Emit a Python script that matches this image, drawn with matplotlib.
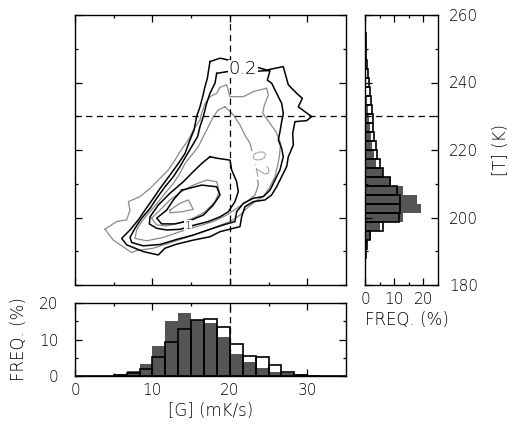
import numpy as np
import matplotlib
matplotlib.use('Agg')
import matplotlib.pyplot as plt

plt.rcParams['font.family'] = ['DejaVu Sans']
plt.rcParams['font.weight'] = 'light'
plt.rcParams['axes.labelweight'] = 'light'

# ---------------- data ----------------
# [G] histogram (bins of 5/3 mK/s from 0 to 35)
g_bin_width = 5 / 3
g_freq_gray = [0, 0, 0, 0.6, 1.3, 3.3, 8.1, 15.0, 17.3, 15.3, 14.4, 10.6, 6.1,
               3.8, 2.1, 1.1, 0.8, 0.6, 0.3, 0, 0]
g_freq_line = [0, 0, 0, 0.3, 0.9, 1.9, 5.3, 9.3, 12.8, 15.3, 15.7, 13.4, 8.8,
               5.6, 5.3, 3.0, 1.2, 0.3, 0.1, 0, 0]

# [T] histogram (bins of 8/3 K from 180 to 260)
t_bin_width = 8 / 3
t_freq_gray = [0, 0, 0.1, 0.4, 0.8, 2.0, 5.0, 13.1, 19.2, 17.9, 13.1, 9.0, 6.3,
               3.7, 3.0, 2.5, 2.1, 1.7, 1.3, 1.0, 0.7, 0.5, 0.4, 0.3, 0.2, 0.1,
               0.1, 0, 0, 0]
t_freq_line = [0, 0, 0.1, 0.3, 0.6, 1.7, 6.0, 11.5, 12.0, 12.0, 10.9, 8.6, 6.3,
               5.2, 4.1, 3.7, 3.2, 2.9, 2.6, 2.3, 2.1, 1.7, 1.4, 1.0, 0.7, 0.4,
               0.3, 0.2, 0.1, 0]

# reference lines
g_ref = 20
t_ref = 230

# black contours (G, T)
blk1_g = [17.43, 18.73, 21.74, 24.75, 26.90, 27.55, 28.63, 29.36, 28.84, 30.56,
          29.92, 28.41, 28.11, 28.20, 27.55, 27.34, 26.69, 26.04, 25.40, 24.54,
          23.03, 21.95, 21.52, 21.31, 20.45, 18.73, 17.43, 15.28, 13.13, 11.62,
          10.76, 8.82, 6.67, 6.03, 7.10, 8.18, 9.04, 10.12, 10.98, 12.27, 13.34,
          14.21, 14.85, 15.37, 15.71, 16.14, 16.49, 16.79, 17.09]
blk1_t = [246.2, 247.2, 245.7, 243.7, 244.7, 239.3, 236.8, 235.3, 232.8, 229.9,
          228.7, 228.4, 224.9, 221.5, 218.0, 215.1, 212.1, 209.1, 206.7, 205.2,
          204.7, 203.2, 200.2, 197.3, 196.8, 195.8, 194.3, 193.3, 192.1, 190.9,
          188.9, 189.9, 191.9, 193.8, 196.3, 199.3, 202.2, 205.7, 208.6, 212.6,
          216.0, 219.0, 223.0, 225.9, 229.9, 232.8, 235.8, 238.8, 241.2]

blk2_g = [18.30, 19.59, 22.60, 24.54, 25.18, 24.84, 25.40, 26.04, 26.69, 26.90,
          26.69, 26.47, 26.26, 26.69, 26.90, 26.47, 25.83, 25.18, 24.32, 23.03,
          21.74, 20.88, 20.66, 19.16, 17.43, 15.28, 13.13, 10.98, 8.82, 7.32,
          7.10, 7.75, 8.61, 9.69, 10.55, 11.62, 12.70, 13.56, 14.42, 15.07,
          15.84, 16.14, 16.57, 17.00, 17.43, 18.08]
blk2_t = [242.7, 243.2, 243.2, 243.5, 243.5, 240.7, 239.8, 236.8, 233.8, 230.9,
          228.4, 225.4, 223.0, 220.5, 218.0, 214.1, 211.1, 208.1, 206.2, 205.7,
          204.2, 201.7, 198.8, 197.8, 196.5, 194.8, 193.5, 192.0, 191.6, 192.6,
          194.1, 196.8, 199.8, 202.7, 205.7, 209.1, 212.1, 215.1, 218.5, 221.0,
          224.0, 226.9, 229.9, 233.8, 236.8, 239.8]

blk3_g = [17.43, 18.51, 20.02, 20.23, 20.88, 21.09, 20.66, 19.80, 18.73, 17.22,
          15.50, 13.56, 11.84, 10.55, 9.60, 9.69, 10.76, 12.27, 13.99, 15.28, 16.36]
blk3_t = [218.0, 217.5, 217.0, 214.1, 210.6, 207.7, 204.7, 201.7, 200.2, 198.8,
          197.8, 196.5, 196.3, 196.8, 198.1, 200.2, 203.7, 207.2, 210.6, 213.6, 216.0]

blk4_g = [13.78, 16.36, 18.30, 18.73, 17.86, 16.57, 14.85, 12.91, 11.19, 10.55,
          11.84, 12.70]
blk4_t = [208.1, 209.6, 209.1, 206.7, 203.7, 200.7, 199.1, 198.1, 198.1, 199.8,
          202.2, 205.2]

# gray contours (G, T)
gry1_g = [3.87, 5.38, 6.67, 7.10, 6.89, 8.39, 9.69, 10.76, 12.05, 12.91, 13.56,
          14.64, 15.28, 16.14, 16.36, 16.79, 17.43, 18.30, 18.73, 19.59, 20.02,
          21.74, 23.03, 24.75, 24.97, 24.45, 24.24, 25.18, 25.96, 26.56, 26.39,
          26.13, 25.83, 25.18, 24.32, 23.25, 22.17, 21.31, 20.02, 18.30, 16.57,
          14.42, 12.27, 10.12, 7.96, 7.32, 4.95]
gry1_t = [196.5, 198.8, 199.3, 202.2, 204.7, 206.2, 208.6, 211.1, 214.1, 217.0,
          219.5, 223.0, 225.9, 228.9, 230.9, 233.8, 235.8, 236.8, 238.6, 239.3,
          235.8, 235.8, 237.3, 238.3, 236.3, 233.3, 230.9, 227.9, 225.4, 222.0,
          218.0, 215.1, 212.1, 209.1, 206.2, 204.7, 202.7, 200.7, 198.8, 197.3,
          195.8, 194.1, 192.5, 190.9, 190.2, 189.6, 193.3]

gry2_g = [19.37, 20.45, 21.31, 21.95, 22.60, 23.03, 23.46, 23.68, 23.25, 22.17,
          20.88, 19.59, 17.86, 15.71, 13.56, 11.41, 9.26, 7.75, 7.96, 8.61, 9.47,
          10.55, 11.62, 12.70, 13.56, 14.21, 15.07, 15.93, 16.57, 17.22, 17.86, 18.51]
gry2_t = [232.8, 230.4, 227.4, 224.4, 222.0, 218.0, 213.1, 209.6, 206.7, 204.7,
          202.7, 200.7, 198.8, 197.3, 195.8, 194.1, 193.1, 193.8, 196.3, 198.8,
          201.2, 204.0, 207.2, 210.1, 213.1, 216.0, 218.5, 221.0, 224.0, 226.9,
          229.9, 231.9]

gry3_g = [9.90, 10.98, 12.27, 13.78, 15.28, 17.00, 18.30, 18.64, 18.08, 16.79,
          15.28, 13.56, 11.84, 10.55]
gry3_t = [199.8, 202.2, 205.2, 207.7, 209.6, 211.1, 210.6, 207.7, 204.7, 201.7,
          199.8, 198.5, 197.5, 197.8]

gry4_g = [12.27, 13.56, 14.64, 15.28, 13.78, 12.27]
gry4_t = [202.2, 204.2, 205.2, 202.4, 201.7, 201.4]

black_contours = [(blk1_g, blk1_t), (blk2_g, blk2_t), (blk3_g, blk3_t), (blk4_g, blk4_t)]
gray_contours = [(gry1_g, gry1_t), (gry2_g, gry2_t), (gry3_g, gry3_t), (gry4_g, gry4_t)]

# ---------------- figure ----------------
W, H = 514, 426
fig = plt.figure(figsize=(W / 100, H / 100), dpi=100)

def rect(l, r, t, b):
    return [l / W, (H - b) / H, (r - l) / W, (b - t) / H]

ax = fig.add_axes(rect(75, 346, 15, 285))
axb = fig.add_axes(rect(75, 346, 303, 376))
axr = fig.add_axes(rect(365, 438, 15, 285))

BAR_GRAY = '#555555'
LINE_GRAY = '#8a8a8a'
FS = 11
dash = (0, (5, 3.5))

for a in (ax, axb, axr):
    for s in a.spines.values():
        s.set_linewidth(1.0)
    a.tick_params(which='both', direction='in', top=True, right=True,
                  width=0.9, labelsize=FS)
    a.tick_params(which='major', length=5)
    a.tick_params(which='minor', length=2.5)

# main contour panel
ax.set_xlim(0, 35)
ax.set_ylim(180, 260)
ax.set_xticks([0, 10, 20, 30])
ax.set_xticks([5, 15, 25], minor=True)
ax.set_yticks([180, 200, 220, 240, 260])
ax.set_yticks([190, 210, 230, 250], minor=True)
ax.tick_params(labelbottom=False, labelleft=False)

for g, t in gray_contours:
    ax.plot(list(g) + [g[0]], list(t) + [t[0]], color=LINE_GRAY, lw=0.9, zorder=2)
for g, t in black_contours:
    ax.plot(list(g) + [g[0]], list(t) + [t[0]], color='black', lw=1.1, zorder=3)

ax.axvline(g_ref, color='black', lw=0.9, ls=dash, zorder=4)
ax.axhline(t_ref, color='black', lw=0.9, ls=dash, zorder=4)

ax.text(21.7, 244.0, '0.2', fontsize=13, ha='center', va='center', color='black',
        bbox=dict(fc='white', ec='none', pad=0.3), zorder=5)
ax.text(23.5, 215.6, '0.2', fontsize=13, ha='center', va='center', color=LINE_GRAY,
        rotation=-77, rotation_mode='anchor',
        bbox=dict(fc='white', ec='none', pad=0.3), zorder=5)
ax.text(14.6, 197.6, '1', fontsize=8, ha='center', va='center', color='black',
        bbox=dict(fc='white', ec='none', pad=0.1), zorder=5)

# bottom histogram ([G])
g_left = np.arange(len(g_freq_gray)) * g_bin_width
axb.set_xlim(0, 35)
axb.set_ylim(0, 20)
axb.axvline(g_ref, color='black', lw=0.9, ls=dash, zorder=0.5)
axb.bar(g_left, g_freq_gray, width=g_bin_width, align='edge', color=BAR_GRAY,
        edgecolor='none', zorder=1)
axb.bar(g_left, g_freq_line, width=g_bin_width, align='edge', fill=False,
        edgecolor='black', lw=1.2, zorder=2)
axb.set_xticks([0, 10, 20, 30])
axb.set_xticks([5, 15, 25], minor=True)
axb.set_yticks([0, 10, 20])
axb.set_yticks([5, 15], minor=True)
axb.tick_params(axis='y', pad=12)
axb.tick_params(axis='x', pad=5)
axb.set_xlabel('[G] (mK/s)', fontsize=FS + 1, labelpad=3)
axb.set_ylabel('FREQ. (%)', fontsize=FS + 1, labelpad=8)

# right histogram ([T])
t_bottom = 180 + np.arange(len(t_freq_gray)) * t_bin_width
axr.set_xlim(0, 25)
axr.set_ylim(180, 260)
axr.axhline(t_ref, color='black', lw=0.9, ls=dash, zorder=0.5)
axr.barh(t_bottom, t_freq_gray, height=t_bin_width, align='edge', color=BAR_GRAY,
         edgecolor='none', zorder=1)
axr.barh(t_bottom, t_freq_line, height=t_bin_width, align='edge', fill=False,
         edgecolor='black', lw=1.2, zorder=2)
axr.set_xticks([0, 10, 20])
axr.set_xticks([5, 15], minor=True)
axr.set_yticks([180, 200, 220, 240, 260])
axr.set_yticks([190, 210, 230, 250], minor=True)
axr.tick_params(labelleft=False, labelright=True)
axr.tick_params(axis='y', pad=8)
axr.tick_params(axis='x', pad=5)
axr.yaxis.set_label_position('right')
axr.set_ylabel('[T] (K)', fontsize=FS + 1, labelpad=10)
axr.set_xlabel('FREQ. (%)', fontsize=FS + 1, labelpad=3, loc='left')

fig.savefig('out.png', dpi=100)
